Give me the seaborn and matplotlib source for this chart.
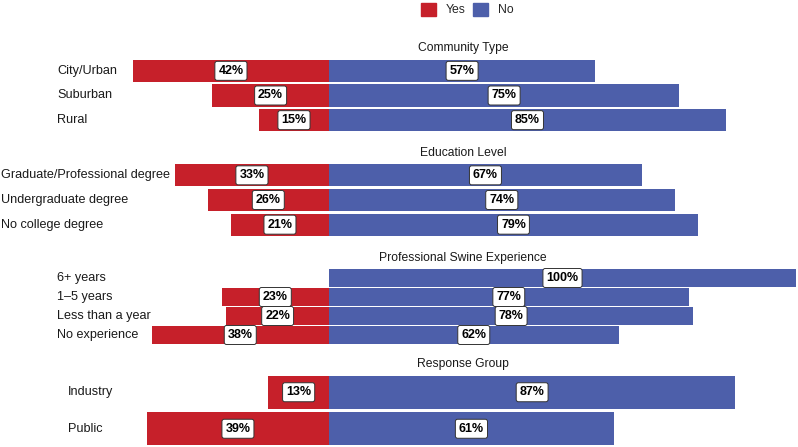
import matplotlib
matplotlib.use("Agg")
import matplotlib.pyplot as plt
import matplotlib.transforms as mtransforms
from matplotlib.patches import Patch
import pandas as pd
import seaborn as sns

# --------------------------------------------------------------------------- #
# Data (percent of respondents answering Yes / No)
# --------------------------------------------------------------------------- #
facet_titles = ["Community Type", "Education Level",
                "Professional Swine Experience", "Response Group"]

community_labels = ["City/Urban", "Suburban", "Rural"]
community_yes = [42, 25, 15]
community_no = [57, 75, 85]

education_labels = ["Graduate/Professional degree", "Undergraduate degree",
                    "No college degree"]
education_yes = [33, 26, 21]
education_no = [67, 74, 79]

experience_labels = ["6+ years", "1–5 years", "Less than a year", "No experience"]
experience_yes = [0, 23, 22, 38]
experience_no = [100, 77, 78, 62]

group_labels = ["Industry", "Public"]
group_yes = [13, 39]
group_no = [87, 61]

YES_COLOR = "#C6202A"
NO_COLOR = "#4D5FAA"

# layout in pixels (figure is 798 x 447)
W, H = 798, 447
panel_top = [58.5, 163.0, 268.5, 374.0]
panel_h = [74.0, 74.0, 76.0, 73.0]
label_x = [57, 1, 57, 68]
center_px = 329
px_per_pct = 4.67

sns.set_theme(style="white")
plt.rcParams["font.family"] = ["Liberation Sans", "DejaVu Sans"]

fig = plt.figure(figsize=(W / 100, H / 100), dpi=100)

facets = [
    (community_labels, community_yes, community_no),
    (education_labels, education_yes, education_no),
    (experience_labels, experience_yes, experience_no),
    (group_labels, group_yes, group_no),
]

xmin = -center_px / px_per_pct
xmax = (W - center_px) / px_per_pct

for i, (labels, yes, no) in enumerate(facets):
    ax = fig.add_axes([0, 1 - (panel_top[i] + panel_h[i]) / H, 1, panel_h[i] / H])
    df = pd.DataFrame({
        "category": labels * 2,
        "value": [-v for v in yes] + list(no),
        "response": ["Yes"] * len(labels) + ["No"] * len(labels),
    })
    sns.barplot(data=df, y="category", x="value", hue="response", orient="h",
                order=labels, hue_order=["Yes", "No"], dodge=False,
                palette={"Yes": YES_COLOR, "No": NO_COLOR}, saturation=1,
                width=0.9, linewidth=0, errorbar=None, legend=False, ax=ax)
    n = len(labels)
    ax.set_xlim(xmin, xmax)
    ax.set_ylim(n - 0.5, -0.5)
    ax.axis("off")

    trans = mtransforms.blended_transform_factory(fig.transFigure, ax.transData)
    box = dict(boxstyle="round,pad=0.28,rounding_size=0.18", fc="white",
               ec="#333333", lw=0.7)
    for j, lab in enumerate(labels):
        ax.text(label_x[i] / W, j, lab, transform=trans, ha="left",
                va="center", fontsize=9.1, color="#1a1a1a")
        if yes[j] > 0:
            ax.text(-yes[j] / 2, j, f"{yes[j]}%", ha="center", va="center",
                    fontsize=9, fontweight="bold", color="black", bbox=box)
        if no[j] > 0:
            ax.text(no[j] / 2, j, f"{no[j]}%", ha="center", va="center",
                    fontsize=9, fontweight="bold", color="black", bbox=box)

    fig.text(463 / W, 1 - (panel_top[i] - 7) / H, facet_titles[i],
             ha="center", va="baseline", fontsize=8.7, color="#1a1a1a")

handles = [Patch(color=YES_COLOR, label="Yes"), Patch(color=NO_COLOR, label="No")]
fig.legend(handles=handles, loc="center", bbox_to_anchor=(467 / W, 1 - 9.5 / H),
           ncol=2, frameon=False, fontsize=8.8, handlelength=1.25,
           handleheight=1.25, handletextpad=0.75, columnspacing=0.65,
           borderpad=0, borderaxespad=0)

fig.savefig("out.png", dpi=100)
plt.close(fig)
